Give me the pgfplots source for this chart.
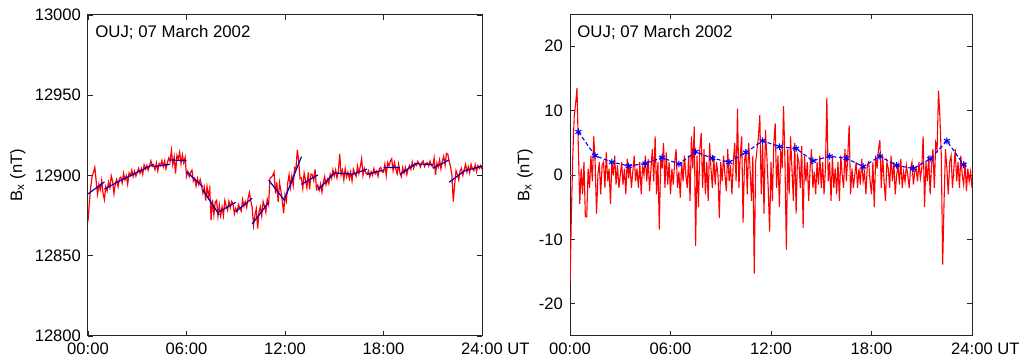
\documentclass[border=0pt]{standalone}
\usepackage{fontspec}
\setmainfont{Liberation Sans}
\usepackage{pgfplots}
\pgfplotsset{compat=1.18}
\usepackage{pgfplotstable}
% t in minutes after 00:00 UT; L = Bx (nT); R = Bx residual (nT)
\pgfplotstableread{
t L R
0 12871.5 -17
5 12883.1 -6
10 12892.8 3
15 12899.4 9
20 12902.0 11
25 12905.1 13.5
30 12896.3 4
35 12888.4 -4.5
40 12894.5 1
45 12891.1 -3
50 12896.8 2
55 12888.9 -6.5
60 12885.0 -6.5
65 12893.0 1
70 12890.4 -2
75 12895.9 3
80 12892.3 -1
85 12899.8 6
90 12896.3 2
95 12888.7 -6
100 12895.2 0
105 12897.6 2
110 12893.1 -3
115 12898.0 1.5
120 12899.0 2
125 12895.4 -2
130 12901.3 3.5
135 12897.3 -1
140 12899.7 1
145 12894.6 -4.5
150 12901.5 2
155 12899.9 0
160 12903.3 3
165 12899.3 -1.5
170 12902.7 1.5
175 12899.6 -2
180 12902.0 0
185 12904.4 2
190 12901.3 -1.5
195 12904.3 1
200 12900.7 -3
205 12906.6 2.5
210 12904.0 -0.5
215 12906.4 1.5
220 12903.3 -2
225 12906.3 0.5
230 12909.2 3
235 12905.6 -1
240 12906.5 1
245 12903.6 -2
250 12907.8 2
255 12902.9 -3
260 12907.5 1.5
265 12906.1 0
270 12909.3 3
275 12905.4 -1
280 12909.0 2.5
285 12904.1 -2.5
290 12907.8 1
295 12910.9 4
300 12908.7 -1
305 12915.7 6
310 12906.6 -3
315 12911.6 2
320 12901.2 -8.5
325 12912.5 3
330 12910.5 1
335 12914.5 5
340 12907.4 -2
345 12912.9 3.5
350 12907.9 -1.5
355 12911.3 2
360 12899.4 -3
365 12902.6 1
370 12899.3 -1.5
375 12902.0 2
380 12903.3 4
385 12896.5 -2
390 12898.2 0.5
395 12893.4 -3.5
400 12898.1 2
405 12894.4 -1
410 12897.6 3
415 12893.8 0
420 12889.0 -2
425 12892.7 3
430 12884.4 -4
435 12893.1 6
440 12886.8 1
445 12892.0 7.5
450 12872.2 -11
455 12884.9 3
460 12875.6 -5
465 12883.3 4
470 12884.5 6.5
475 12874.7 -2
480 12881.5 4
485 12875.0 -3
490 12880.5 2
495 12875.0 -4
500 12884.4 5
505 12880.9 1
510 12878.4 -2
515 12883.9 3
520 12879.9 -1.5
525 12883.9 2
530 12882.3 0
535 12876.1 -6.7
540 12879.5 2
545 12877.2 -1
550 12881.9 3
555 12879.6 0
560 12877.8 -2.5
565 12885.0 4
570 12880.7 -1
575 12883.8 1.5
580 12880.0 -3
585 12885.7 2
590 12889.4 5
595 12884.1 -1
600 12880.1 10.3
605 12868.9 -2
610 12875.1 3
615 12879.2 6
620 12866.9 -7.4
625 12877.4 2
630 12880.6 4
635 12874.7 -3
640 12883.8 5
645 12880.9 1
650 12877.1 -4
655 12885.2 3
660 12881.9 -15.3
665 12898.1 2
670 12899.0 4
675 12899.9 6
680 12902.1 9.3
685 12888.7 -3
690 12895.7 5
695 12883.6 -6
700 12895.5 7
705 12890.4 3
710 12884.3 -2
715 12876.4 -8.8
720 12888.0 2
725 12884.1 -4
730 12895.3 5
735 12900.4 8
740 12892.6 -2
745 12899.7 3
750 12893.9 -5
755 12905.0 4
760 12904.1 1
765 12916.0 10.7
770 12909.4 2
775 12898.0 -11.6
780 12898.5 4
785 12892.0 -3
790 12901.5 6
795 12897.0 1
800 12892.4 -4
805 12901.9 5
810 12891.4 -6
815 12900.9 3
820 12900.4 2
825 12896.9 -2
830 12903.8 4.5
835 12891.6 -8.2
840 12894.0 3
845 12890.9 -1
850 12894.7 2
855 12889.6 -4
860 12895.5 1
865 12899.3 4
870 12894.2 -2
875 12897.6 0.5
880 12894.9 -3
885 12900.8 2
890 12898.2 -1.5
895 12903.5 3
900 12899.6 -2
905 12903.5 2
910 12898.5 -3
915 12902.4 1
920 12913.4 12
925 12900.3 -1
930 12903.3 2
935 12897.3 -4
940 12904.2 3
945 12899.2 -2
950 12902.1 1
955 12898.0 -3
960 12902.3 2
965 12896.6 -4
970 12903.9 3
975 12901.2 0
980 12899.5 -2
985 12905.8 4
990 12901.2 -1
995 12905.5 3
1000 12910.5 7.7
1005 12900.1 -3
1010 12904.4 1
1015 12901.7 -2
1020 12900.7 0
1025 12902.9 2
1030 12899.2 -2
1035 12902.4 1
1040 12900.1 -1.5
1045 12904.3 2.5
1050 12901.1 -1
1055 12902.8 0.5
1060 12899.5 -3
1065 12904.2 1.5
1070 12905.0 2
1075 12902.2 -1
1080 12902.0 -3
1085 12907.0 2
1090 12900.0 -5
1095 12908.0 3
1100 12906.0 1
1105 12909.0 4
1110 12910.4 5.4
1115 12903.0 -2
1120 12908.0 3
1125 12904.0 -1
1130 12901.0 -4
1135 12907.0 2
1140 12901.7 1
1145 12899.3 -2
1150 12904.9 3
1155 12901.4 -1
1160 12905.0 2
1165 12900.6 -3
1170 12904.2 0
1175 12906.2 1.5
1180 12903.8 -1.5
1185 12908.4 2.5
1190 12904.5 -2
1195 12907.5 0.5
1200 12906.3 -1
1205 12908.8 1.5
1210 12907.2 0
1215 12905.2 -2
1220 12908.1 1
1225 12909.1 2
1230 12905.6 -1.5
1235 12907.5 0.5
1240 12908.0 1
1245 12905.9 -1
1250 12908.9 2
1255 12906.3 -0.5
1260 12905.5 1
1265 12910.9 6
1270 12900.4 -5
1275 12907.8 2
1280 12905.2 -1
1285 12909.7 3
1290 12904.1 -3
1295 12909.0 1.5
1300 12912.0 4
1305 12906.4 -2
1310 12913.8 5
1315 12913.3 4
1320 12908.9 13.1
1325 12905.4 9
1330 12900.1 3
1335 12883.8 -13.9
1340 12894.3 -4
1345 12903.0 4
1350 12900.6 1
1355 12897.2 -3
1360 12902.9 2
1365 12904.5 3
1370 12900.1 -2
1375 12903.8 1
1380 12907.0 4
1385 12902.2 -1
1390 12905.5 2
1395 12901.7 -2
1400 12907.0 3
1405 12904.2 0
1410 12903.0 -1.5
1415 12906.7 2
1420 12902.4 -2.5
1425 12906.2 1
1430 12904.4 -1
1435 12906.2 0.5
1440 12903.9 -2
}\bxdata

\pgfplotsset{
  bxaxis/.style={
    scale only axis,
    xmin=0, xmax=1440,
    xtick={0,360,720,1080,1440},
    xticklabels={00:00,06:00,12:00,18:00,{24:00\rlap{~UT}}},
    tick align=inside,
    major tick length=2.5pt,
    axis line style={line width=0.5pt, black!85},
    every tick/.style={black!85, line width=0.4pt},
    tick label style={font=\fontsize{8.3}{10}\selectfont},
    label style={font=\fontsize{8.3}{10}\selectfont},
    /pgf/number format/assume math mode=true,
    /pgf/number format/1000 sep={},
    scaled y ticks=false,
    ylabel={B\textsubscript{x} (nT)},
  }
}

\begin{document}
\begin{tikzpicture}
\path[use as bounding box] (0,0) rectangle (516.5pt,181.5pt);

\begin{axis}[bxaxis,
  at={(44pt,13.5pt)}, anchor=south west,
  width=197pt, height=160.5pt,
  ymin=12800, ymax=13000,
  ytick={12800,12850,12900,12950,13000},
  ylabel style={at={(axis description cs:-0.178,0.5)}, anchor=center},
  unbounded coords=jump,
]
\addplot[red, line width=0.6pt] table[x=t, y=L] {\bxdata};
\addplot[blue!75!black, line width=0.6pt] coordinates {
(0,12888.5)(60,12896) (60,nan)
(60,12891.5)(120,12897) (120,nan)
(120,12897)(180,12902) (180,nan)
(180,12902)(240,12907) (240,nan)
(240,12905.5)(300,12907) (300,nan)
(300,12909.7)(360,12909.3) (360,nan)
(360,12902.4)(420,12893) (420,nan)
(420,12891)(480,12875.4) (480,nan)
(480,12877.5)(540,12883.3) (540,nan)
(540,12877.5)(600,12885.8) (600,nan)
(600,12869.8)(660,12883.3) (660,nan)
(660,12897.2)(720,12884.1) (720,nan)
(720,12886)(780,12911.7) (780,nan)
(780,12894.5)(840,12900.3) (840,nan)
(840,12891)(900,12901.4) (900,nan)
(900,12901.6)(960,12901) (960,nan)
(960,12900.3)(1020,12904) (1020,nan)
(1020,12900.7)(1080,12903.4) (1080,nan)
(1080,12905)(1140,12905) (1140,nan)
(1140,12900.7)(1200,12907.6) (1200,nan)
(1200,12907.3)(1260,12906.8) (1260,nan)
(1260,12904.5)(1320,12909.7) (1320,nan)
(1320,12895.8)(1380,12903.4) (1380,nan)
(1380,12903)(1440,12905.9)
};
\node[anchor=base west, inner sep=0pt, font=\fontsize{8.4}{10}\selectfont, xshift=3.5pt, yshift=-11.5pt] at (rel axis cs:0,1) {OUJ; 07 March 2002};
\end{axis}

\begin{axis}[bxaxis,
  at={(285pt,13.5pt)}, anchor=south west,
  width=201pt, height=161pt,
  ymin=-25, ymax=25,
  ytick={-20,-10,0,10,20},
  ylabel style={at={(axis description cs:-0.112,0.5)}, anchor=center},
]
\addplot[black!35, dotted, line width=0.4pt] coordinates {(0,0)(1440,0)};
\addplot[red, line width=0.55pt] table[x=t, y=R] {\bxdata};
\addplot[blue, line width=0.55pt, dash pattern=on 2pt off 1.2pt, mark=asterisk, mark size=1.7pt, mark options={solid, line width=0.55pt}] coordinates {
(30,6.7)(90,3.0)(150,2.0)(210,1.4)(270,1.8)(330,2.7)(390,1.7)(450,3.6)
(510,2.6)(570,2.0)(630,3.5)(690,5.3)(750,4.4)(810,4.1)(870,2.2)(930,2.9)
(990,2.6)(1050,1.3)(1110,2.9)(1170,1.5)(1230,1.0)(1290,2.5)(1350,5.3)(1410,1.6)
};
\node[anchor=base west, inner sep=0pt, font=\fontsize{8.4}{10}\selectfont, xshift=3.5pt, yshift=-11.5pt] at (rel axis cs:0,1) {OUJ; 07 March 2002};
\end{axis}
\end{tikzpicture}
\end{document}
